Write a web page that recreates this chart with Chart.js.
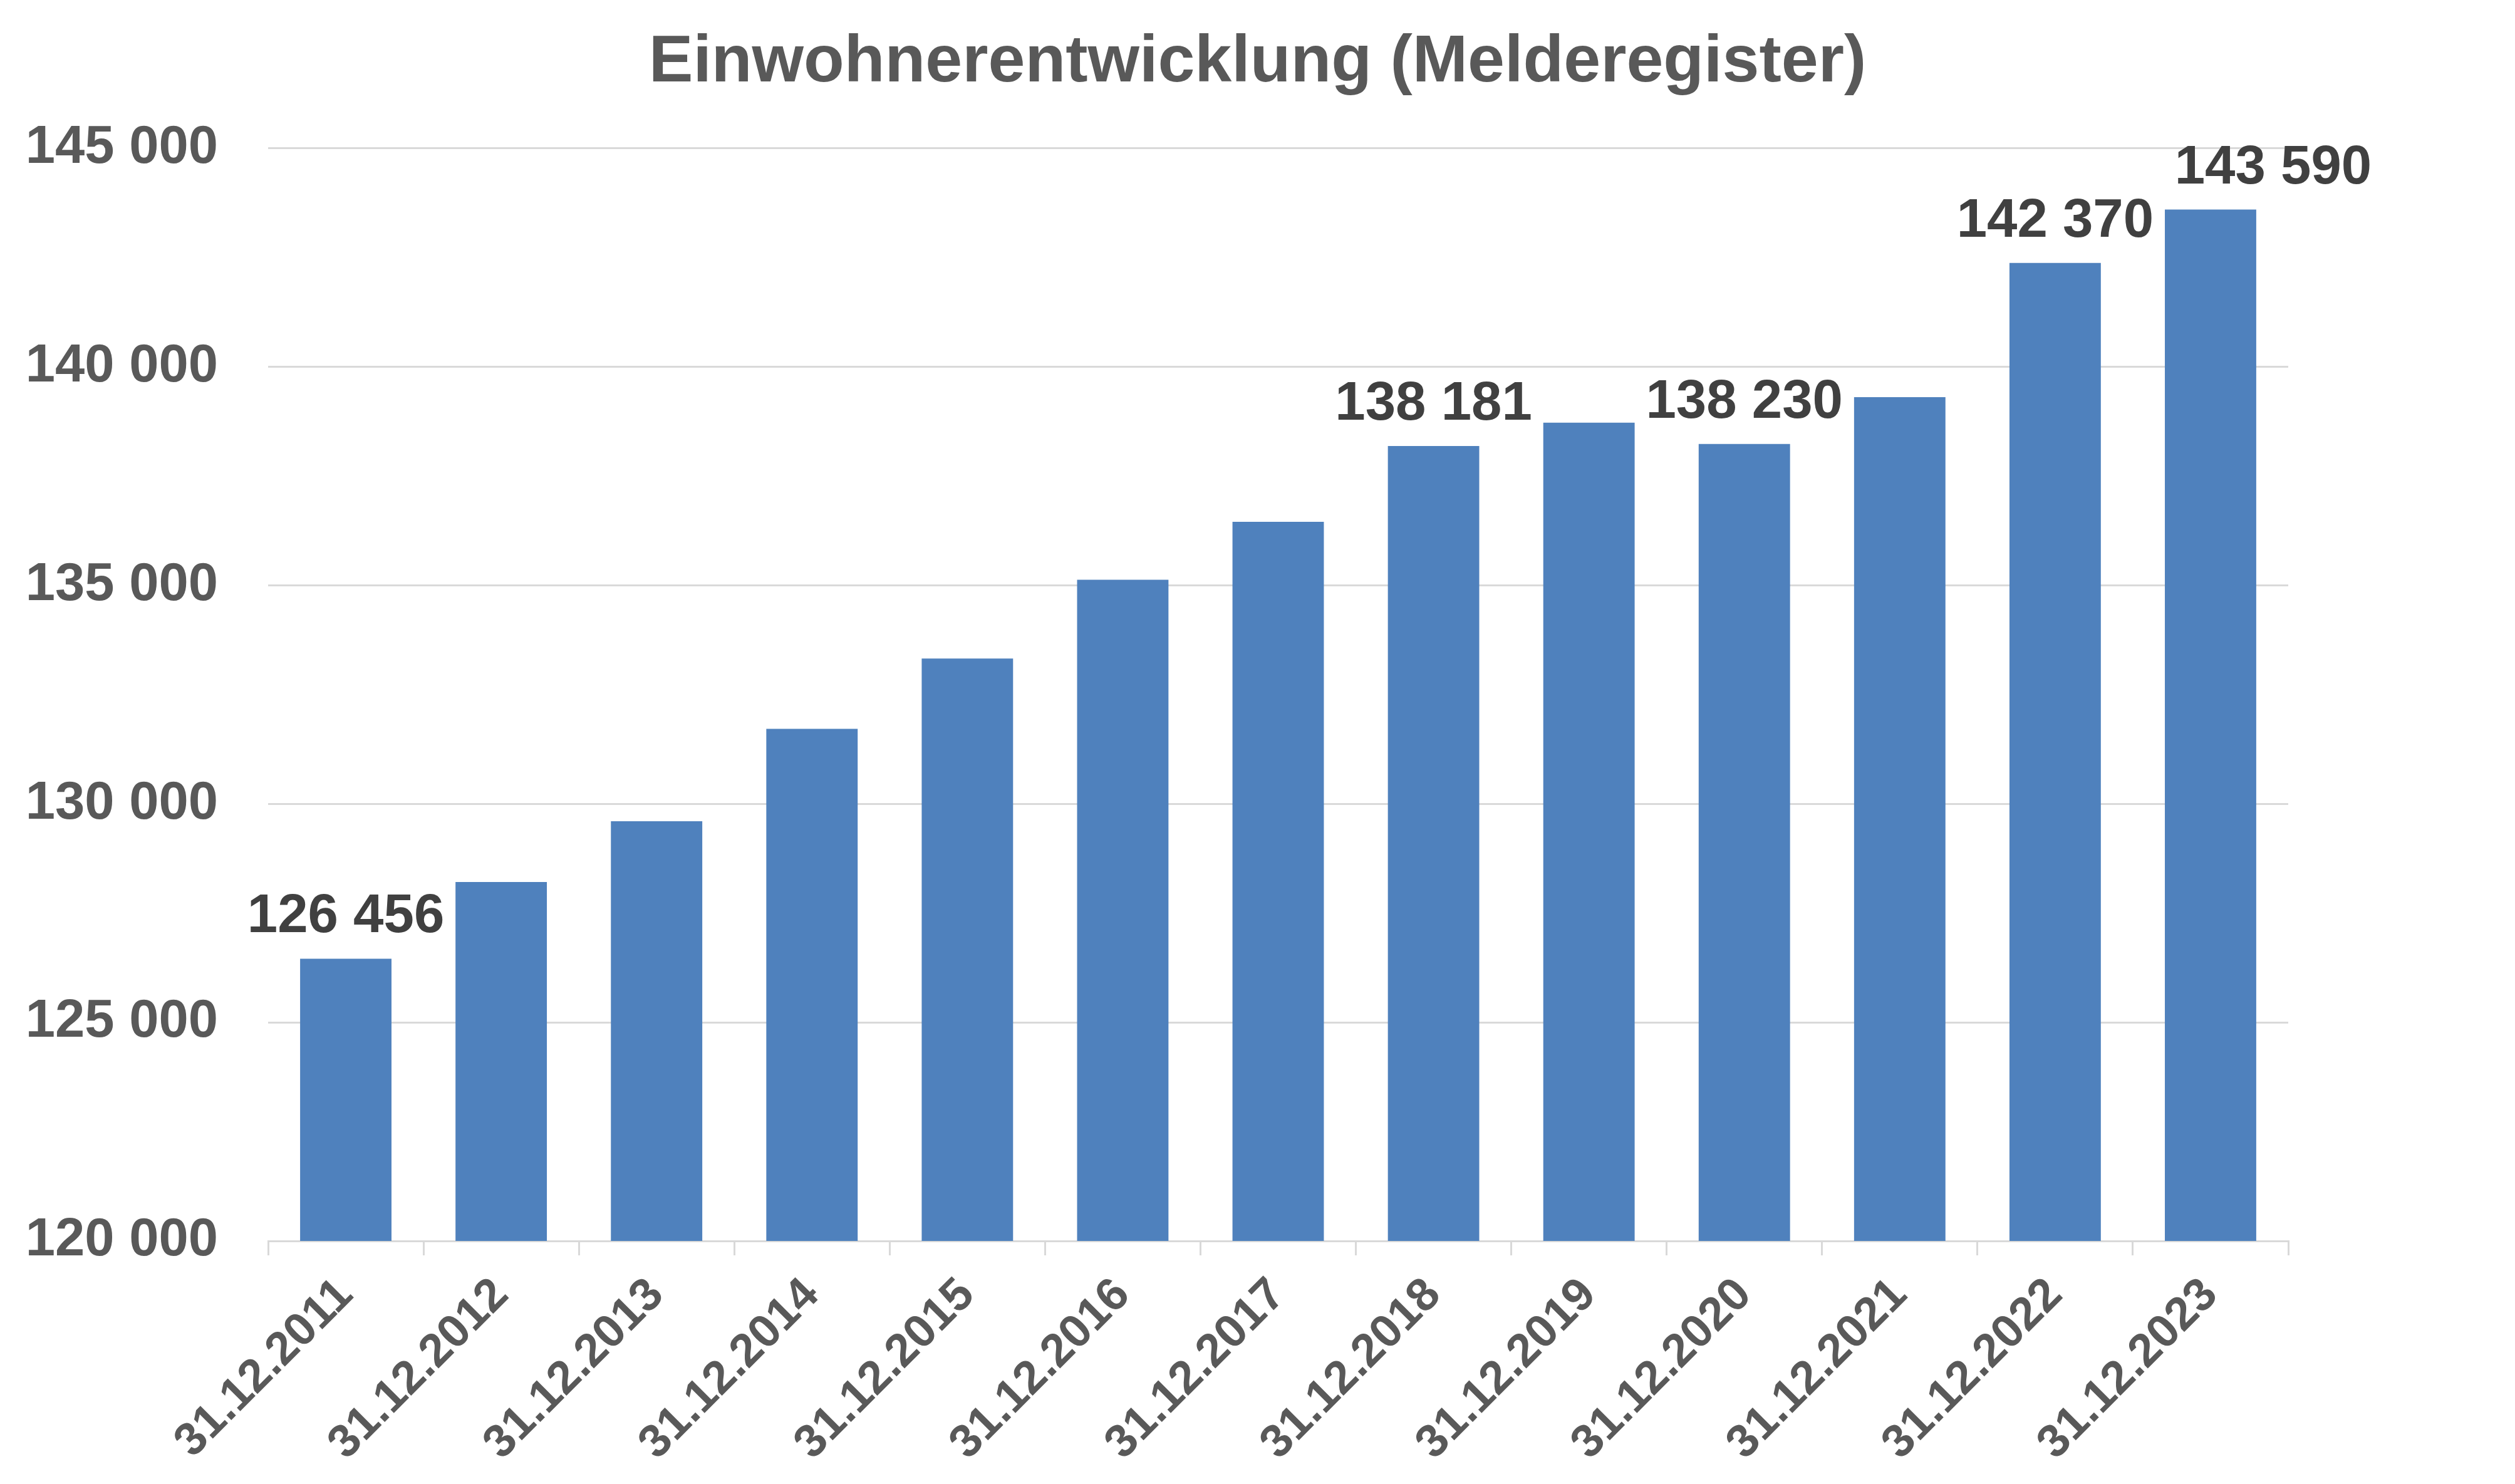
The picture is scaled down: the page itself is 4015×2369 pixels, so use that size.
<!DOCTYPE html>
<html><head><meta charset="utf-8">
<script src="https://cdn.jsdelivr.net/npm/chart.js@4.4.1/dist/chart.umd.min.js"></script>
<style>html,body{margin:0;padding:0;background:#fff}#wrap{width:4015px;height:2369px;position:relative}</style>
</head><body><div id="wrap"><canvas id="c" width="4015" height="2369"></canvas></div>
<script>
const chartTitle = 'Einwohnerentwicklung (Melderegister)';
const categories = ['31.12.2011','31.12.2012','31.12.2013','31.12.2014','31.12.2015','31.12.2016','31.12.2017','31.12.2018','31.12.2019','31.12.2020','31.12.2021','31.12.2022','31.12.2023'];
const populationValues = [126456, 128210, 129600, 131715, 133320, 135125, 136450, 138181, 138715, 138230, 139300, 142370, 143590];
const labelledBars = [true, false, false, false, false, false, false, true, false, true, false, true, true];
const yTickValues = [120000, 125000, 130000, 135000, 140000, 145000];

const FONT = '"Liberation Sans", Arial, sans-serif';
const fmt = n => String(n).replace(/\B(?=(\d{3})+(?!\d))/g, ' ');

const valueLabelPlugin = {
  id: 'valueLabels',
  afterDatasetsDraw(chart, args, opts) {
    const ctx = chart.ctx;
    const meta = chart.getDatasetMeta(0);
    ctx.save();
    ctx.font = 'bold ' + opts.size + 'px ' + FONT;
    ctx.fillStyle = opts.color;
    ctx.textAlign = 'center';
    ctx.textBaseline = 'alphabetic';
    meta.data.forEach((bar, i) => {
      if (!labelledBars[i]) return;
      const dx = (opts.shift && opts.shift[i]) || 0;
      ctx.fillText(fmt(populationValues[i]), bar.x + dx, bar.y - opts.gap);
    });
    ctx.restore();
  }
};

new Chart(document.getElementById('c'), {
  type: 'bar',
  data: {
    labels: categories,
    datasets: [{
      data: populationValues,
      backgroundColor: '#4f81bd',
      borderWidth: 0,
      barPercentage: 0.588,
      categoryPercentage: 1.0
    }]
  },
  options: {
    responsive: false,
    animation: false,
    devicePixelRatio: 1,
    layout: { padding: { left: 0, right: 0, top: 0, bottom: 0 } },
    plugins: {
      legend: { display: false },
      tooltip: { enabled: false },
      title: {
        display: true,
        text: chartTitle,
        color: '#595959',
        font: { family: FONT, size: 106, weight: 'bold', lineHeight: 1.2 },
        padding: { top: 37, bottom: 72 }
      },
      valueLabels: { size: 87, color: '#404040', gap: 42, shift: { 12: 100 } }
    },
    scales: {
      x: {
        offset: true,
        border: { display: true, color: '#d9d9d9', width: 3 },
        grid: { offset: true, drawOnChartArea: false, drawTicks: true, tickLength: 23, color: '#d9d9d9', lineWidth: 3 },
        ticks: {
          autoSkip: false, maxRotation: 45, minRotation: 45,
          color: '#595959', padding: 20,
          font: { family: FONT, size: 74, weight: 'bold' }
        },
        afterFit(scale) { scale.height = 388; }
      },
      y: {
        min: 120000, max: 145000,
        border: { display: false },
        grid: { color: '#d9d9d9', lineWidth: 3, drawTicks: false },
        afterBuildTicks(scale) { scale.ticks = yTickValues.map(v => ({ value: v })); },
        ticks: {
          color: '#595959', padding: 80,
          font: { family: FONT, size: 85, weight: 'bold' },
          callback: v => fmt(v)
        },
        afterFit(scale) { scale.width = 428; }
      },
      yRight: {
        position: 'right',
        display: true,
        min: 120000, max: 145000,
        border: { display: false },
        grid: { display: false, drawTicks: false },
        ticks: { display: false },
        afterFit(scale) { scale.width = 362; }
      }
    }
  },
  plugins: [valueLabelPlugin]
});
</script>
</body></html>
